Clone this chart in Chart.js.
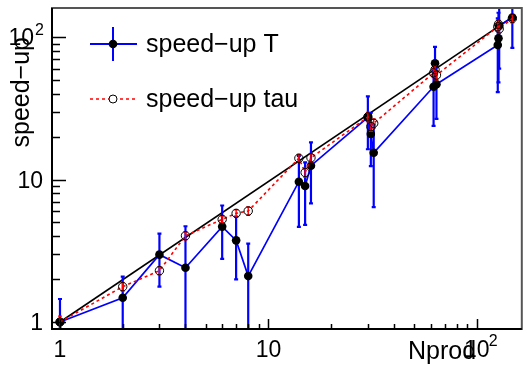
<!DOCTYPE html>
<html>
<head>
<meta charset="utf-8">
<script src="https://cdn.jsdelivr.net/npm/chart.js@4.4.1/dist/chart.umd.min.js"></script>
<style>
  body { margin: 0; background: #fff; }
  canvas { display: block; }
</style>
</head>
<body>
<canvas id="speedChart" width="527" height="366"></canvas>
<script>
// number of producers (x) and measured speed-ups
const nprod = [1, 2, 3, 4, 6, 7, 8, 14, 15, 16, 30, 31, 32, 62, 63, 64, 126, 127, 128, 148];
const speedT = [1, 1.48, 2.97, 2.4, 4.67, 3.74, 2.1, 9.65, 9.0, 12.5, 27.3, 20.9, 15.4, 44.8, 65.4, 46.6, 88, 98, 120, 137];
const speedTErr = [0.45, 0.6, 1.2, 2.3, 1.9, 1.75, 1.45, 5, 4.2, 5.7, 11, 8.5, 9, 21, 20, 20, 47, 50, 60, 53];
const speedTau = [1, 1.77, 2.29, 4.03, 5.25, 5.79, 6.01, 14.1, 11.2, 14.2, 27.5, 23.5, 24.8, 56, 59, 54, 118, 123, 114, 135];
const speedTauErr = [0.1, 0.12, 0.15, 0.25, 0.3, 0.35, 0.4, 0.9, 0.8, 0.9, 2, 1.7, 1.8, 4, 4, 4, 8, 8, 8, 9];
// black reference line
const idealX = [1, 148];
const idealY = [1, 138];
// axis labels
const majorTicks = [1, 10, 100];
const tickText = ['1', '10', '10'];
const tickExp = ['', '', '2'];

const FONT = '"Liberation Sans", Arial, Helvetica, sans-serif';

function drawErrors(ctx, chart, ds) {
    const xs = chart.scales.x, ys = chart.scales.y, area = chart.chartArea;
    ctx.save();
    ctx.beginPath();
    ctx.rect(area.left, area.top, area.right - area.left, area.bottom - area.top);
    ctx.clip();
    ctx.strokeStyle = ds.errColor;
    ctx.lineWidth = ds.errWidth;
    ds.data.forEach((p, i) => {
        const e = ds.errors[i];
        const px = xs.getPixelForValue(p.x);
        const top = ys.getPixelForValue(p.y + e);
        const lo = p.y - e;
        const bot = lo > 0 ? ys.getPixelForValue(lo) : area.bottom + 5;
        ctx.beginPath();
        ctx.moveTo(px, top); ctx.lineTo(px, bot);
        ctx.moveTo(px - 2, top); ctx.lineTo(px + 2, top);
        ctx.moveTo(px - 2, bot); ctx.lineTo(px + 2, bot);
        ctx.stroke();
    });
    ctx.restore();
}

const rootAxes = {
    id: 'rootAxes',
    beforeDatasetDraw(chart, args) {
        const ds = chart.data.datasets[args.index];
        if (ds.errors) drawErrors(chart.ctx, chart, ds);
    },
    afterDraw(chart) {
        const ctx = chart.ctx;
        const a = chart.chartArea;
        const xs = chart.scales.x, ys = chart.scales.y;
        ctx.save();
        // frame
        ctx.strokeStyle = '#555';
        ctx.lineWidth = 2;
        ctx.strokeRect(a.left, a.top, a.right - a.left, a.bottom - a.top);
        ctx.strokeStyle = '#000';
        ctx.beginPath();
        ctx.moveTo(a.left, a.top); ctx.lineTo(a.left, a.bottom); ctx.lineTo(a.right, a.bottom);
        ctx.stroke();

        // ticks, pointing inside
        ctx.lineWidth = 1.5;
        ctx.beginPath();
        for (let d = 1; d <= 100; d *= 10) {
            for (let m = 1; m <= 9; m++) {
                const v = d * m;
                const major = m === 1;
                if (v >= xs.min && v <= xs.max) {
                    const px = Math.round(xs.getPixelForValue(v)) + 0.5;
                    ctx.moveTo(px, a.bottom); ctx.lineTo(px, a.bottom - (major ? 10 : 5));
                }
                if (v >= ys.min && v <= ys.max) {
                    const py = Math.round(ys.getPixelForValue(v)) + 0.5;
                    ctx.moveTo(a.left, py); ctx.lineTo(a.left + (major ? 14 : 8), py);
                }
            }
        }
        ctx.stroke();

        // tick labels
        ctx.fillStyle = '#000';
        ctx.textBaseline = 'middle';
        majorTicks.forEach((v, i) => {
            const py = ys.getPixelForValue(v);
            if (tickExp[i]) {
                ctx.font = '16px ' + FONT;
                ctx.textAlign = 'right';
                ctx.fillText(tickExp[i], 44, py - 6);
                ctx.font = '23px ' + FONT;
                ctx.fillText(tickText[i], 34, py + 2);
            } else {
                ctx.font = '23px ' + FONT;
                ctx.textAlign = 'right';
                ctx.fillText(tickText[i], 43, py + 2);
            }
            const px = xs.getPixelForValue(v);
            ctx.font = '23px ' + FONT;
            if (tickExp[i]) {
                ctx.textAlign = 'center';
                ctx.fillText(tickText[i], px, 351);
                ctx.font = '16px ' + FONT;
                ctx.textAlign = 'left';
                ctx.fillText(tickExp[i], px + 12, 342);
            } else {
                ctx.textAlign = 'center';
                ctx.fillText(tickText[i], px, 351);
            }
        });

        // axis titles
        ctx.font = '25px ' + FONT;
        ctx.textAlign = 'left';
        ctx.fillText('Nprod', 408, 352);
        ctx.save();
        ctx.translate(22, 37);
        ctx.rotate(-Math.PI / 2);
        ctx.textAlign = 'right';
        ctx.fillText('speed\u2212up', 0, 0);
        ctx.restore();

        // legend
        ctx.strokeStyle = '#0000ff';
        ctx.lineWidth = 2;
        ctx.beginPath();
        ctx.moveTo(90, 44); ctx.lineTo(137, 44);
        ctx.moveTo(113, 27); ctx.lineTo(113, 61);
        ctx.stroke();
        ctx.fillStyle = '#000';
        ctx.beginPath(); ctx.arc(113, 44, 4.3, 0, Math.PI * 2); ctx.fill();
        ctx.strokeStyle = '#ff0000';
        ctx.lineWidth = 1.5;
        ctx.setLineDash([3, 3]);
        ctx.beginPath(); ctx.moveTo(90, 99); ctx.lineTo(137, 99); ctx.stroke();
        ctx.setLineDash([]);
        ctx.fillStyle = '#fff';
        ctx.strokeStyle = '#000';
        ctx.lineWidth = 1;
        ctx.beginPath(); ctx.arc(113, 99, 4, 0, Math.PI * 2); ctx.fill(); ctx.stroke();
        ctx.fillStyle = '#000';
        ctx.font = '25px ' + FONT;
        ctx.textAlign = 'left';
        ctx.fillText('speed\u2212up T', 146, 45);
        ctx.fillText('speed\u2212up tau', 146, 100);
        ctx.restore();
    }
};

const ctx = document.getElementById('speedChart').getContext('2d');
new Chart(ctx, {
    type: 'scatter',
    data: {
        datasets: [{
            label: 'speed-up tau',
            data: nprod.map((x, i) => ({ x: x, y: speedTau[i] })),
            showLine: true,
            borderColor: '#ff0000',
            borderWidth: 1.6,
            borderDash: [3, 3],
            pointRadius: 4.2,
            pointBackgroundColor: 'rgba(0,0,0,0)',
            pointBorderColor: '#000',
            pointBorderWidth: 1,
            errors: speedTauErr,
            errColor: '#ff0000',
            errWidth: 1.4
        }, {
            label: 'speed-up T',
            data: nprod.map((x, i) => ({ x: x, y: speedT[i] })),
            showLine: true,
            borderColor: '#0000ff',
            borderWidth: 1.7,
            pointRadius: 4.3,
            pointBackgroundColor: '#000',
            pointBorderColor: '#000',
            pointBorderWidth: 0,
            errors: speedTErr,
            errColor: '#0000ff',
            errWidth: 2.2
        }, {
            label: 'ideal',
            data: idealX.map((x, i) => ({ x: x, y: idealY[i] })),
            showLine: true,
            borderColor: '#000',
            borderWidth: 1.6,
            pointRadius: 0
        }]
    },
    options: {
        responsive: false,
        animation: false,
        devicePixelRatio: 1,
        events: [],
        layout: { padding: { left: 52, right: 4, top: 8, bottom: 37 } },
        scales: {
            x: { type: 'logarithmic', min: 0.9156, max: 164.3, bounds: 'data', display: false },
            y: { type: 'logarithmic', min: 0.893, max: 159.8, bounds: 'data', display: false }
        },
        plugins: {
            legend: { display: false },
            tooltip: { enabled: false }
        }
    },
    plugins: [rootAxes]
});
</script>
</body>
</html>
